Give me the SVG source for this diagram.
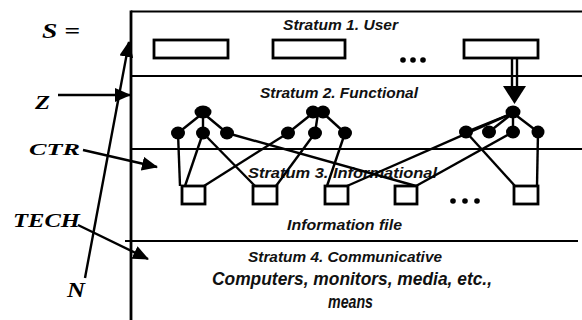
<svg xmlns="http://www.w3.org/2000/svg" width="582" height="320" viewBox="0 0 582 320">
<style>
.frame{stroke:#000;stroke-width:2.8;fill:none}
.sep{stroke:#000;stroke-width:2.2;fill:none}
.box{fill:#fff;stroke:#000;stroke-width:2.8}
.nd{fill:#000}
.edge{stroke:#000;stroke-width:2.4;fill:none}
.lab{font-family:"Liberation Sans",Arial,sans-serif;font-weight:bold;font-style:italic;fill:#111}
.sym{font-family:"Liberation Serif","Times New Roman",serif;font-weight:bold;font-style:italic;fill:#000}
.ptr{stroke:#000;stroke-width:2.4;fill:none;marker-end:url(#ah)}
.dot{fill:#000}
</style>
<defs>
<marker id="ah" markerUnits="userSpaceOnUse" markerWidth="16" markerHeight="14" refX="15" refY="7" orient="auto">
<path d="M0,0 L16,7 L0,14 z" fill="#000"/>
</marker>
</defs>
<rect width="582" height="320" fill="#fff"/>

<g id="frame">
<line class="frame" x1="131" y1="10.5" x2="131" y2="320"/>
<line class="sep" x1="131" y1="11.5" x2="582" y2="11.5"/>
<line class="sep" x1="131" y1="76" x2="582" y2="76"/>
<line class="sep" x1="131" y1="149" x2="582" y2="149"/>
<line class="sep" x1="125" y1="241" x2="578" y2="241"/>
</g>

<g id="stratum1">
<text class="lab" x="283" y="30" font-size="15.5" textLength="115" lengthAdjust="spacingAndGlyphs">Stratum 1. User</text>
<g id="user1"><rect class="box" x="154" y="40" width="74" height="18"/></g>
<g id="user2"><rect class="box" x="273" y="40" width="72" height="18"/></g>
<g id="userdots"><circle class="dot" cx="403" cy="60" r="2.8"/><circle class="dot" cx="413" cy="60" r="2.8"/><circle class="dot" cx="423" cy="60" r="2.8"/></g>
<g id="user3"><rect class="box" x="464" y="40" width="74" height="18"/></g>
</g>

<g id="stratum2">
<text class="lab" x="260" y="98" font-size="15.5" textLength="158" lengthAdjust="spacingAndGlyphs">Stratum 2. Functional</text>
</g>
<g id="stratum3label">
<text class="lab" x="248" y="178" font-size="15.5" textLength="189" lengthAdjust="spacingAndGlyphs">Stratum 3. Informational</text>
<text class="lab" x="287" y="230" font-size="14.5" textLength="115" lengthAdjust="spacingAndGlyphs">Information file</text>
</g>
<g id="stratum4">
<text class="lab" x="248" y="262" font-size="15.5" textLength="194" lengthAdjust="spacingAndGlyphs">Stratum 4. Communicative</text>
<text class="lab" x="212" y="285" font-size="18" textLength="280" lengthAdjust="spacingAndGlyphs">Computers, monitors, media, etc.,</text>
<text class="lab" x="328" y="308" font-size="18" textLength="45" lengthAdjust="spacingAndGlyphs">means</text>
</g>

<g id="connectors">
<line class="edge" x1="512" y1="58" x2="512" y2="88"/>
<line class="edge" x1="517" y1="58" x2="517" y2="88"/>
<path d="M503,86 L526,86 L514.5,104 z" fill="#000"/>
<line class="edge" x1="203" y1="113" x2="178" y2="133"/>
<line class="edge" x1="203" y1="113" x2="203" y2="133"/>
<line class="edge" x1="203" y1="113" x2="227" y2="133"/>
<line class="edge" x1="178" y1="133" x2="180" y2="186"/>
<line class="edge" x1="203" y1="133" x2="185" y2="186"/>
<line class="edge" x1="203" y1="133" x2="255" y2="186"/>
<line class="edge" x1="227" y1="133" x2="416" y2="186"/>
<line class="edge" x1="313" y1="113" x2="288" y2="133"/>
<line class="edge" x1="318" y1="113" x2="315" y2="133"/>
<line class="edge" x1="323" y1="113" x2="345" y2="133"/>
<line class="edge" x1="288" y1="133" x2="204" y2="186"/>
<line class="edge" x1="315" y1="133" x2="276" y2="186"/>
<line class="edge" x1="345" y1="133" x2="327" y2="186"/>
<line class="edge" x1="513" y1="113" x2="466" y2="132"/>
<line class="edge" x1="513" y1="113" x2="489" y2="132"/>
<line class="edge" x1="513" y1="113" x2="513" y2="132"/>
<line class="edge" x1="513" y1="113" x2="538" y2="132"/>
<line class="edge" x1="513" y1="113" x2="347" y2="186"/>
<line class="edge" x1="466" y1="132" x2="515" y2="186"/>
<line class="edge" x1="513" y1="132" x2="416" y2="186"/>
<line class="edge" x1="538" y1="132" x2="537" y2="186"/>
<line class="ptr" x1="85" y1="278" x2="129" y2="42"/>
<line class="ptr" x1="58" y1="95" x2="130" y2="95"/>
<line class="ptr" x1="83" y1="150" x2="157" y2="167"/>
<line class="ptr" x1="78" y1="225" x2="148" y2="259"/>
</g>

<g id="g1top"><ellipse class="nd" cx="203" cy="112" rx="8.5" ry="6.5"/></g>
<g id="g1a"><ellipse class="nd" cx="178" cy="133" rx="7" ry="6.5"/></g>
<g id="g1b"><ellipse class="nd" cx="203" cy="133" rx="7" ry="6.5"/></g>
<g id="g1c"><ellipse class="nd" cx="227" cy="133" rx="7" ry="6.5"/></g>
<g id="g2top"><ellipse class="nd" cx="313" cy="112" rx="7" ry="6.5"/><ellipse class="nd" cx="323" cy="112" rx="7" ry="6.5"/></g>
<g id="g2a"><ellipse class="nd" cx="288" cy="133" rx="7" ry="6.5"/></g>
<g id="g2b"><ellipse class="nd" cx="315" cy="133" rx="7" ry="6.5"/></g>
<g id="g2c"><ellipse class="nd" cx="345" cy="133" rx="7" ry="6.5"/></g>
<g id="g3top"><ellipse class="nd" cx="513" cy="112" rx="7.5" ry="6.5"/></g>
<g id="g3a"><ellipse class="nd" cx="466" cy="132" rx="7" ry="6.5"/></g>
<g id="g3b"><ellipse class="nd" cx="489" cy="132" rx="7" ry="6.5"/></g>
<g id="g3c"><ellipse class="nd" cx="513" cy="132" rx="7" ry="6.5"/></g>
<g id="g3d"><ellipse class="nd" cx="538" cy="132" rx="6.5" ry="6.5"/></g>

<g id="file1"><rect class="box" x="182" y="186" width="23" height="18"/></g>
<g id="file2"><rect class="box" x="253" y="186" width="24" height="18"/></g>
<g id="file3"><rect class="box" x="325" y="186" width="23" height="18"/></g>
<g id="file4"><rect class="box" x="395" y="186" width="22" height="18"/></g>
<g id="filedots"><circle class="dot" cx="453" cy="201" r="2.8"/><circle class="dot" cx="465" cy="201" r="2.8"/><circle class="dot" cx="477" cy="201" r="2.8"/></g>
<g id="file5"><rect class="box" x="514" y="186" width="24" height="18"/></g>

<g id="labels">
<text class="sym" x="42" y="38" font-size="20" textLength="38" lengthAdjust="spacingAndGlyphs">S =</text>
<text class="sym" x="35" y="109" font-size="19" textLength="15" lengthAdjust="spacingAndGlyphs">Z</text>
<text class="sym" x="29" y="155" font-size="17" textLength="51" lengthAdjust="spacingAndGlyphs">CTR</text>
<text class="sym" x="13" y="227" font-size="18" textLength="67" lengthAdjust="spacingAndGlyphs">TECH</text>
<text class="sym" x="67" y="297" font-size="20" textLength="18" lengthAdjust="spacingAndGlyphs">N</text>
</g>
</svg>
